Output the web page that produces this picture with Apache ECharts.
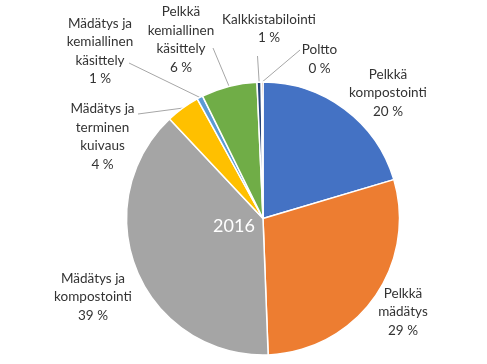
<!DOCTYPE html>
<html><head><meta charset="utf-8">
<script src="https://cdn.jsdelivr.net/npm/echarts@6/dist/echarts.min.js"></script>
<style>html,body{margin:0;padding:0;background:#fff}#c{width:487px;height:364px}</style>
</head><body><div id="c"></div>
<script>
const categories = ['Pelkkä\nkompostointi', 'Pelkkä\nmädätys', 'Mädätys ja\nkompostointi', 'Mädätys ja\nterminen\nkuivaus', 'Mädätys ja\nkemiallinen\nkäsittely', 'Pelkkä\nkemiallinen\nkäsittely', 'Kalkkistabilointi', 'Poltto'];
const values = [20.4, 29.0, 38.6, 4.0, 0.7, 6.6, 0.5, 0.2];
const percentLabels = [20, 29, 39, 4, 1, 6, 1, 0];
const colors = ['#4472C4', '#ED7D31', '#A5A5A5', '#FFC000', '#5B9BD5', '#70AD47', '#264478', '#9E480E'];
const labelPos = [[388, 93], [403, 312], [93, 297], [102.5, 136.5], [100, 51], [181, 39.5], [269, 28.5], [319.5, 59]];
const lineEnds = [null, null, null, [138, 114], [129, 63], [213, 48], [257.5, 56], [300, 50]];

const chart = echarts.init(document.getElementById('c'), null, {renderer: 'canvas'});
chart.setOption({
  animation: false,
  graphic: [{
    type: 'text', x: 234, y: 226, z: 100,
    style: {text: '2016', fill: '#ffffff', font: '18px Lato', align: 'center', verticalAlign: 'middle'}
  }],
  series: [{
    type: 'pie',
    center: [263, 218.5],
    radius: 136.5,
    startAngle: 90,
    clockwise: true,
    avoidLabelOverlap: false,
    itemStyle: {borderColor: '#ffffff', borderWidth: 1.5},
    label: {
      show: true,
      formatter: p => p.name + '\n' + percentLabels[p.dataIndex] + ' %',
      fontFamily: 'Lato', fontSize: 13.5, lineHeight: 18.5, color: '#333333', align: 'center'
    },
    labelLine: {show: true, length: 10, length2: 10, lineStyle: {color: '#a6a6a6', width: 1}},
    labelLayout: function (p) {
      const i = p.dataIndex;
      const pos = labelPos[i];
      const r = {x: pos[0], y: pos[1], align: 'center', verticalAlign: 'middle'};
      if (lineEnds[i] && p.labelLinePoints) {
        r.labelLinePoints = [p.labelLinePoints[0], lineEnds[i], lineEnds[i]];
      }
      return r;
    },
    data: categories.map((n, i) => ({
      name: n, value: values[i],
      itemStyle: {color: colors[i]},
      labelLine: {show: lineEnds[i] !== null}
    }))
  }]
});
</script></body></html>
